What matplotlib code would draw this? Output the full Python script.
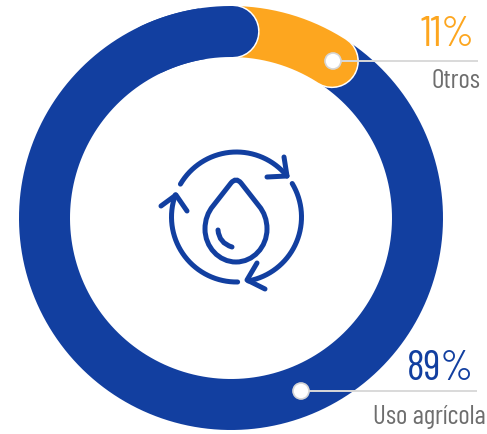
#!/usr/bin/env python3

import numpy as np
import matplotlib
matplotlib.use('Agg')
import matplotlib.pyplot as plt
from matplotlib.path import Path
from matplotlib.patches import PathPatch, Circle

categories = ['Uso agrícola', 'Otros']
values = [89, 11]
labels = ['89%', '11%']

BLUE = '#123FA0'
ORANGE = '#FDA61F'
GREY = '#6E6E6E'
LINE = '#D9D9D9'

plt.rcParams['font.family'] = ['Barlow Condensed', 'Open Sans', 'DejaVu Sans']
plt.rcParams['font.stretch'] = 'condensed'

fig = plt.figure(figsize=(4.87, 4.34), dpi=100)
ax = fig.add_axes([0, 0, 1, 1])
ax.set_xlim(0, 487)
ax.set_ylim(434, 0)
ax.axis('off')

# ring geometry in pixels
cx, cy = 231, 218
r_mid = 186.5
ring_w = 51
px = 72 / 100  # pixels to points


def arc(a0, a1, r=r_mid, x0=cx, y0=cy):
    # angles clockwise from the top, in degrees
    t = np.radians(np.linspace(a0, a1, 200))
    return x0 + r * np.sin(t), y0 - r * np.cos(t)


other_deg = values[1] / sum(values) * 360
cap_deg = np.degrees((ring_w / 2) / r_mid)
other_end = other_deg - cap_deg + 1

# blue ring
ax.plot(*arc(0, 360), color=BLUE, lw=ring_w * px, solid_capstyle='butt', zorder=1)

# orange segment with white outline
ax.plot(*arc(2, other_end), color='white', lw=(ring_w + 3) * px, solid_capstyle='round', zorder=2)
ax.plot(*arc(2, other_end), color=ORANGE, lw=ring_w * px, solid_capstyle='round', zorder=3)

# rounded end of the blue segment sits on top of the orange
ax.plot(*arc(-6, 0.5), color='white', lw=(ring_w + 3) * px, solid_capstyle='round', zorder=4)
ax.plot(*arc(-25, 0.5), color=BLUE, lw=ring_w * px, solid_capstyle='round', zorder=5)

# leader lines and dots
leaders = [(301, 391, 477), (333, 61, 478)]
for x, y, x_end in leaders:
    ax.plot([x, x_end], [y, y], color=LINE, lw=1.4, zorder=6, solid_capstyle='butt')
    ax.add_patch(Circle((x, y), 8, fc='white', ec='#D5D5D5', lw=1.2, zorder=7))

# labels
ax.text(474, 370, labels[0], color=BLUE, fontsize=30, ha='right', va='center', zorder=8)
ax.text(486, 417, categories[0], color=GREY, fontsize=19.5, ha='right', va='center', zorder=8)
ax.text(474, 36, labels[1], color=ORANGE, fontsize=30, ha='right', va='center', zorder=8)
ax.text(480, 81, categories[1], color=GREY, fontsize=19.5, ha='right', va='center', zorder=8)

# recycle icon
ix, iy, ir = 236.5, 217, 65
icon_lw = 5 * px
arcs = [(-59.6, 51), (59, 169.5), (179, 290)]
for a0, a1 in arcs:
    ax.plot(*arc(a0, a1, ir, ix, iy), color=BLUE, lw=icon_lw, solid_capstyle='round', zorder=3)

heads = [
    [(284, 157), (287, 176), (267, 177)],
    [(257, 263), (247, 280), (265, 289)],
    [(161, 206), (176, 195), (187, 211)],
]
for h in heads:
    hx, hy = zip(*h)
    ax.plot(hx, hy, color=BLUE, lw=icon_lw, solid_capstyle='round', solid_joinstyle='round', zorder=3)

# water drop
drop = Path(
    [(231, 183), (236, 177), (241, 183),
     (259, 206),
     (264, 212), (267, 220), (267, 229),
     (267, 247), (253, 262), (236, 262),
     (219, 262), (205, 247), (205, 229),
     (205, 220), (208, 212), (213, 206),
     (231, 183)],
    [Path.MOVETO, Path.CURVE3, Path.CURVE3,
     Path.LINETO,
     Path.CURVE4, Path.CURVE4, Path.CURVE4,
     Path.CURVE4, Path.CURVE4, Path.CURVE4,
     Path.CURVE4, Path.CURVE4, Path.CURVE4,
     Path.CURVE4, Path.CURVE4, Path.CURVE4,
     Path.CLOSEPOLY],
)
ax.add_patch(PathPatch(drop, fc='none', ec=BLUE, lw=icon_lw, zorder=3))

shine = Path([(218, 230), (219, 243), (232, 247)], [Path.MOVETO, Path.CURVE3, Path.CURVE3])
ax.add_patch(PathPatch(shine, fc='none', ec=BLUE, lw=icon_lw, capstyle='round', zorder=3))

fig.savefig('out.png', dpi=100)
